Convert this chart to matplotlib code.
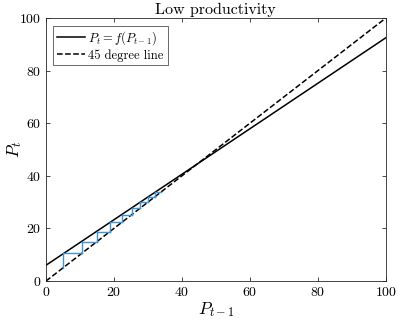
import matplotlib
matplotlib.use('Agg')
import matplotlib.pyplot as plt

plt.rcParams['font.family'] = 'serif'
plt.rcParams['font.serif'] = ['cmr10']
plt.rcParams['mathtext.fontset'] = 'cm'
plt.rcParams['axes.formatter.use_mathtext'] = True

# map P_t = f(P_{t-1}) endpoints and 45 degree line
p_prev = [0, 100]
p_next = [6, 92.5]
diag = [0, 100]

# cobweb iterates
cobweb = [5.1, 10.5, 14.9, 18.8, 22.3, 25.2, 27.6, 30.1, 32.1, 33.8]

fig = plt.figure(figsize=(3.99, 3.22), dpi=100)
ax = fig.add_axes([0.115, 0.127, 0.852, 0.817])

ax.plot(p_prev, p_next, '-', color='black', lw=1.1, label=r'$P_t = f(P_{t-1})$')
ax.plot(diag, diag, '--', color='black', lw=1.1, label='45 degree line')

# cobweb: vertical to the map, horizontal back to the diagonal
for a, b in zip(cobweb[:-1], cobweb[1:]):
    ax.plot([a, a], [a, b], color='#3d95d6', lw=1.0)
    ax.plot([a, b], [b, b], color='#3d95d6', lw=1.0)

ax.set_xlim(0, 100)
ax.set_ylim(0, 100)
ax.set_xticks([0, 20, 40, 60, 80, 100])
ax.set_yticks([0, 20, 40, 60, 80, 100])
ax.tick_params(direction='in', top=True, right=True, labelsize=10, length=3, width=0.5)
for s in ax.spines.values():
    s.set_linewidth(0.6)
    s.set_color('#262626')

ax.set_title('Low productivity', fontsize=11.5, pad=3)
ax.set_xlabel(r'$P_{t-1}$', fontsize=12.5, labelpad=1)
ax.set_ylabel(r'$P_t$', fontsize=12.5)
ax.yaxis.set_label_coords(-0.065, 0.5)

leg = ax.legend(loc='upper left', fontsize=9, fancybox=False, edgecolor='#262626',
                handlelength=2.2, borderaxespad=0.6, handletextpad=0.3,
                labelspacing=0.15, borderpad=0.3)
leg.get_frame().set_linewidth(0.6)

plt.savefig('out.png', dpi=100)
